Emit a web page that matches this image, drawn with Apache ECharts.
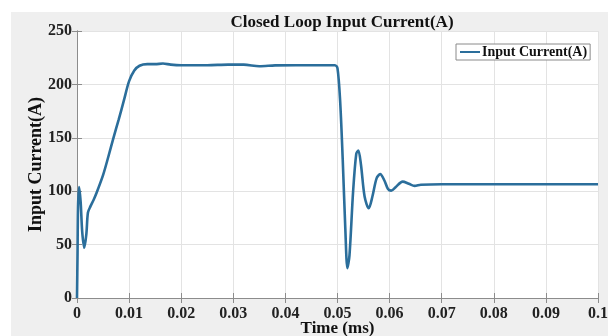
<!DOCTYPE html>
<html>
<head>
<meta charset="utf-8">
<script src="https://cdn.jsdelivr.net/npm/echarts@6/dist/echarts.min.js"></script>
<style>
  html, body { margin: 0; padding: 0; background: #ffffff; }
  #chart { width: 614px; height: 336px; }
</style>
</head>
<body>
<div id="chart"></div>
<script>
// Time samples (ms) and measured input current (A)
const timeMs = [
  0, 0.0001, 0.0002, 0.0004, 0.0007, 0.0010, 0.0014, 0.0018, 0.0021, 0.0026,
  0.0032, 0.0038, 0.0050, 0.0060, 0.0070, 0.0080, 0.0090, 0.0100, 0.0110, 0.0120,
  0.0135, 0.0150, 0.0165, 0.0180, 0.0200, 0.0220, 0.0250, 0.0290, 0.0320, 0.0350,
  0.0380, 0.0420, 0.0460, 0.0495, 0.0500, 0.0505, 0.0510, 0.0515, 0.0519, 0.0523,
  0.0530, 0.0536, 0.0540, 0.0545, 0.0552, 0.0560, 0.0567, 0.0575, 0.0582, 0.0590,
  0.0597, 0.0603, 0.0612, 0.0625, 0.0637, 0.0648, 0.0660, 0.0700, 0.0850, 0.1000
];
const inputCurrent = [
  0, 40, 85, 104, 90, 62, 47, 60, 80, 86,
  92, 99, 115, 132, 150, 167, 185, 203, 213, 217.5,
  219, 219, 219.5, 218.5, 218, 218, 218, 218.5, 218.5, 217,
  217.8, 218, 218, 218, 215, 185, 130, 65, 28, 40,
  100, 135, 138, 125, 95, 84, 95, 112, 116, 110,
  102, 100.5, 104, 109, 107, 105, 106, 106.5, 106.5, 106.5
];
const xTicks = ['0', '0.01', '0.02', '0.03', '0.04', '0.05', '0.06', '0.07', '0.08', '0.09', '0.1'];

const points = timeMs.map((t, i) => [t, inputCurrent[i]]);

const serif = '"Liberation Serif", "DejaVu Serif", serif';
const chart = echarts.init(document.getElementById('chart'), null, { renderer: 'canvas' });

const axisLineStyle = { color: '#8c8c8c', width: 1 };

chart.setOption({
  animation: false,
  backgroundColor: '#ffffff',
  graphic: [{
    type: 'rect',
    z: -10,
    shape: { x: 11, y: 12, width: 597, height: 324 },
    style: { fill: '#efefef' },
    silent: true
  }],
  title: {
    text: 'Closed Loop Input Current(A)',
    left: 337, top: 9, textAlign: 'center',
    textStyle: { fontFamily: serif, fontWeight: 'bold', fontSize: 17, color: '#111' }
  },
  legend: {
    data: ['Input Current(A)'],
    left: 456, top: 44,
    padding: [1, 3, 1, 4],
    itemWidth: 20, itemHeight: 2, itemGap: 0,
    icon: 'rect',
    backgroundColor: '#ffffff',
    borderColor: '#8a8a8a', borderWidth: 1,
    textStyle: { fontFamily: serif, fontWeight: 'bold', fontSize: 14, color: '#111', padding: [0, 0, 0, -3] }
  },
  grid: {
    left: 77, right: 16, top: 31, bottom: 38,
    containLabel: false,
    outerBoundsMode: 'none',
    show: true, backgroundColor: '#ffffff', borderWidth: 0
  },
  xAxis: [{
    type: 'value', min: 0, max: 0.1, interval: 0.01,
    name: 'Time (ms)', nameLocation: 'middle', nameGap: 22, nameMoveOverlap: false,
    nameTextStyle: { fontFamily: serif, fontWeight: 'bold', fontSize: 17, color: '#111' },
    axisLine: { show: true, lineStyle: axisLineStyle },
    axisTick: { show: true, inside: true, length: 5, lineStyle: axisLineStyle },
    axisLabel: {
      fontFamily: serif, fontWeight: 'bold', fontSize: 16, color: '#222', margin: 8,
      formatter: (v) => xTicks[Math.round(v * 100)]
    },
    splitLine: { show: true, lineStyle: { color: '#e3e3e3', width: 1 } }
  }, {
    type: 'value', min: 0, max: 0.1, interval: 0.01, position: 'top',
    axisLine: { show: true, lineStyle: axisLineStyle },
    axisTick: { show: true, inside: true, length: 5, lineStyle: axisLineStyle },
    axisLabel: { show: false }, splitLine: { show: false }
  }],
  yAxis: [{
    type: 'value', min: 0, max: 250, interval: 50,
    name: 'Input Current(A)', nameLocation: 'middle', nameGap: 32, nameMoveOverlap: false,
    nameTextStyle: { fontFamily: serif, fontWeight: 'bold', fontSize: 18, color: '#111' },
    axisLine: { show: true, lineStyle: axisLineStyle },
    axisTick: { show: true, inside: true, length: 5, lineStyle: axisLineStyle },
    axisLabel: { fontFamily: serif, fontWeight: 'bold', fontSize: 16, color: '#222', margin: 5 },
    splitLine: { show: true, lineStyle: { color: '#e3e3e3', width: 1 } }
  }, {
    type: 'value', min: 0, max: 250, interval: 50, position: 'right',
    axisLine: { show: true, lineStyle: axisLineStyle },
    axisTick: { show: true, inside: true, length: 5, lineStyle: axisLineStyle },
    axisLabel: { show: false }, splitLine: { show: false }
  }],
  series: [{
    name: 'Input Current(A)',
    type: 'line',
    data: points,
    showSymbol: false,
    smooth: 0.3,
    color: '#2b6e9b',
    lineStyle: { color: '#2b6e9b', width: 2.6 },
    z: 5
  }]
});
</script>
</body>
</html>
